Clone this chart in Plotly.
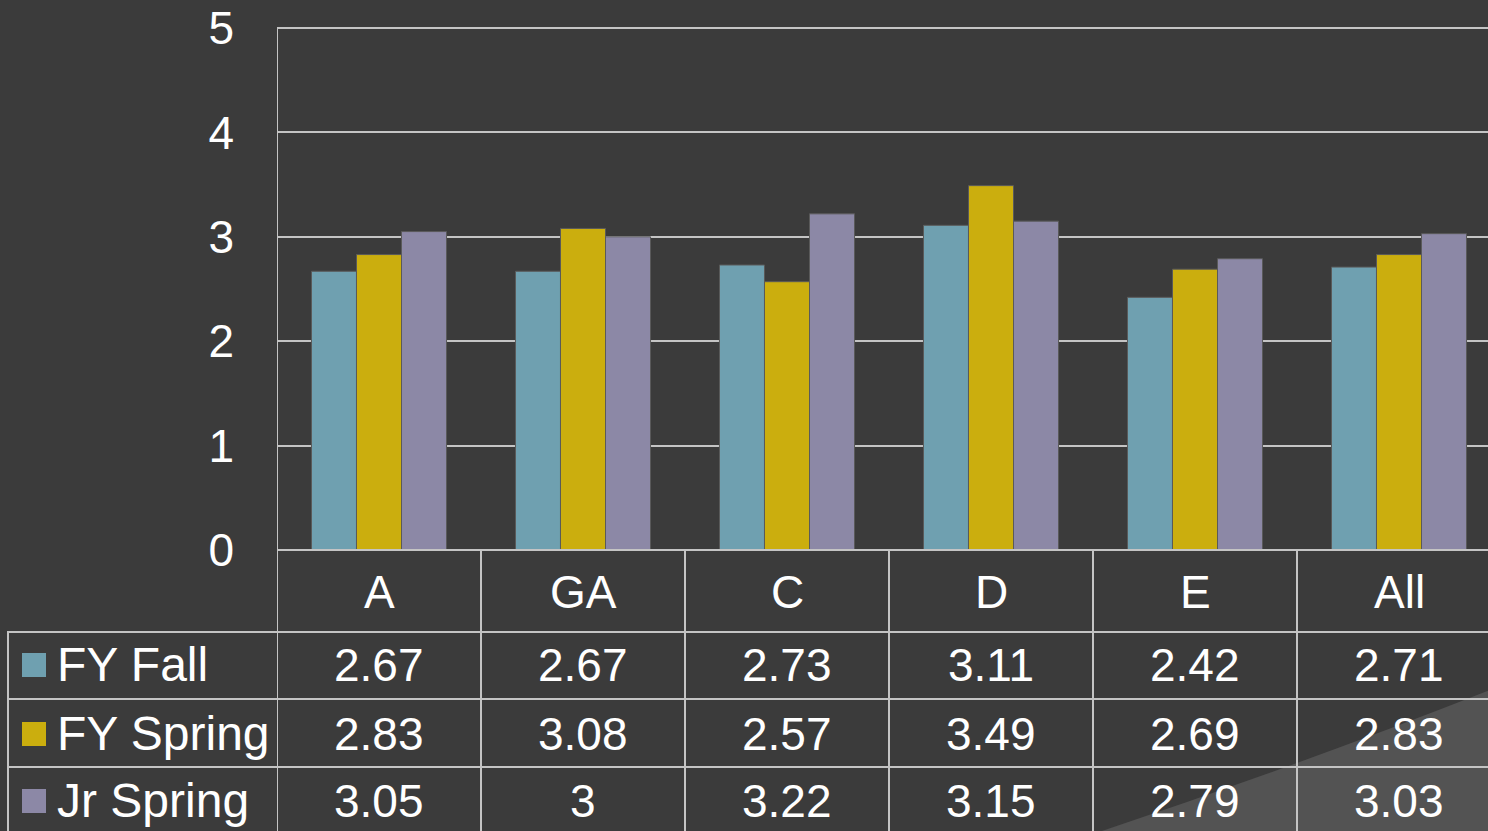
import plotly.graph_objects as go

categories = ["A", "GA", "C", "D", "E", "All"]
series_names = ["FY Fall", "FY Spring", "Jr Spring"]
fy_fall = [2.67, 2.67, 2.73, 3.11, 2.42, 2.71]
fy_spring = [2.83, 3.08, 2.57, 3.49, 2.69, 2.83]
jr_spring = [3.05, 3.00, 3.22, 3.15, 2.79, 3.03]
y_ticks = [0, 1, 2, 3, 4, 5]

series_values = [fy_fall, fy_spring, jr_spring]
colors = ["#6fa0b0", "#cbae0e", "#8c88a6"]

W, H = 1488, 831
L, R_EDGE, T, B = 277, 1488, 28, 550
BG = "#3b3b3b"
GRID = "#c4c4c4"
FONT = "Liberation Sans, Arial, sans-serif"
CAT_W = 204.0

def px(xp):
    return (xp - L) / (R_EDGE - L)

def py(yp):
    return (B - yp) / (B - T)

fig = go.Figure()
for name, vals, col in zip(series_names, series_values, colors):
    fig.add_trace(go.Bar(
        x=list(range(len(categories))), y=vals, name=name,
        marker=dict(color=col, line=dict(color="#5a5a5a", width=1)),
        showlegend=False, hoverinfo="y",
    ))

x_max = -0.5 + (R_EDGE - L) / CAT_W

shapes = []
# decorative swoosh bottom right
shapes.append(dict(
    type="path", xref="paper", yref="paper", layer="below",
    path=f"M {px(1090)},{py(835)} Q {px(1300)},{py(765)} {px(1495)},{py(688)} L {px(1495)},{py(835)} Z",
    fillcolor="#535353", line=dict(width=0),
))
# top and zero lines of plot area
for yv in (0, 1):
    shapes.append(dict(type="line", xref="paper", yref="paper",
                       x0=0, x1=1.0, y0=yv, y1=yv,
                       line=dict(color=GRID, width=2)))
# table horizontal lines
row_lines = [632, 699, 767]
for yl in row_lines:
    shapes.append(dict(type="line", xref="paper", yref="paper",
                       x0=px(7), x1=1.0, y0=py(yl), y1=py(yl),
                       line=dict(color=GRID, width=2)))
# left table border
shapes.append(dict(type="line", xref="paper", yref="paper",
                   x0=px(8), x1=px(8), y0=py(632), y1=py(840),
                   line=dict(color=GRID, width=2)))
# vertical lines of table (category boundaries)
for i in range(len(categories)):
    xb = i - 0.5
    shapes.append(dict(type="line", xref="x", yref="paper",
                       x0=xb, x1=xb, y0=0, y1=py(840),
                       line=dict(color=GRID, width=2)))
# left axis line
shapes.append(dict(type="line", xref="x", yref="paper",
                   x0=-0.5, x1=-0.5, y0=0, y1=1,
                   line=dict(color=GRID, width=2)))

annotations = []
for i, c in enumerate(categories):
    annotations.append(dict(x=i, y=py(592), xref="x", yref="paper",
                            text=c, showarrow=False, xanchor="center", yanchor="middle",
                            font=dict(size=46, color="white", family=FONT)))
row_centers = [665, 734, 801]
for r, (name, vals, col) in enumerate(zip(series_names, series_values, colors)):
    yc = row_centers[r]
    for i, v in enumerate(vals):
        annotations.append(dict(x=i, y=py(yc), xref="x", yref="paper",
                                text=f"{v:g}", showarrow=False,
                                xanchor="center", yanchor="middle",
                                font=dict(size=46, color="white", family=FONT)))
    shapes.append(dict(type="rect", xref="paper", yref="paper",
                       x0=px(22), x1=px(46), y0=py(yc - 12), y1=py(yc + 12),
                       fillcolor=col, line=dict(width=0)))
    annotations.append(dict(x=px(55), y=py(yc - 1), xref="paper", yref="paper",
                            text=name, showarrow=False, xanchor="left", yanchor="middle",
                            font=dict(size=48, color="white", family=FONT)))

fig.update_layout(
    width=W, height=H,
    margin=dict(l=L, r=W - R_EDGE, t=T, b=H - B, pad=0),
    paper_bgcolor=BG, plot_bgcolor=BG,
    barmode="group", bargap=0.338, bargroupgap=0,
    shapes=shapes, annotations=annotations,
    xaxis=dict(range=[-0.5, x_max], showticklabels=False, showgrid=False,
               zeroline=False, showline=False, ticks=""),
    yaxis=dict(range=[0, 5], tickvals=y_ticks, showgrid=True, gridcolor=GRID,
               gridwidth=2, zeroline=False, showline=False, ticks="",
               ticklabelstandoff=42,
               tickfont=dict(size=46, color="white", family=FONT)),
    font=dict(family=FONT, color="white"),
)

fig.write_html("out.html", config={"displayModeBar": False},
               post_script="document.body.style.margin='0px';document.body.style.padding='0px';document.body.style.overflow='hidden';")
